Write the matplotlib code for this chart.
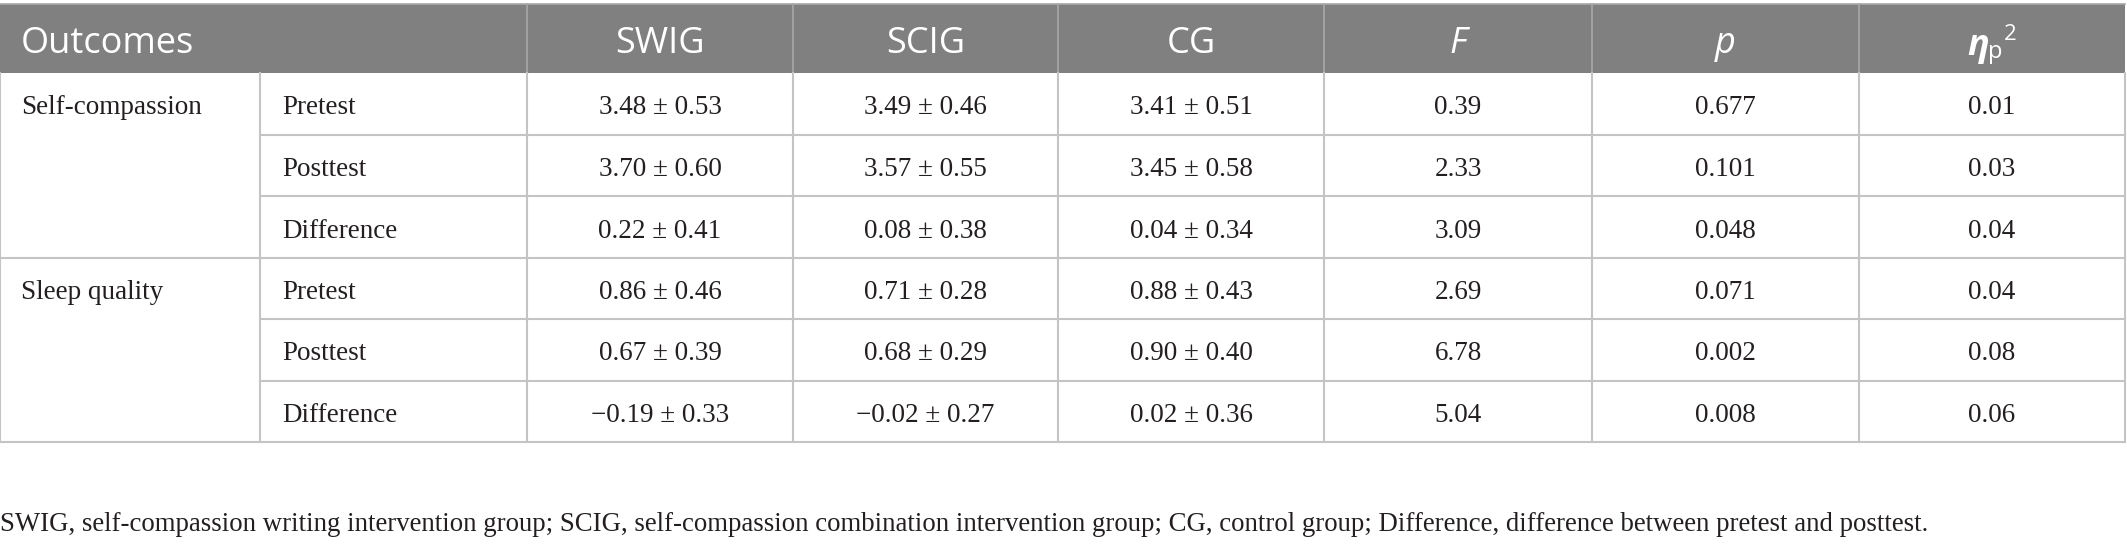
import matplotlib.pyplot as plt
from matplotlib.patches import Rectangle

# Datos de la tabla
outcomes = ['Self-compassion', 'Sleep quality']
phases = ['Pretest', 'Posttest', 'Difference']
headers = ['SWIG', 'SCIG', 'CG', 'F', 'p']

swig_mean = [3.48, 3.70, 0.22, 0.86, 0.67, -0.19]
swig_sd = [0.53, 0.60, 0.41, 0.46, 0.39, 0.33]
scig_mean = [3.49, 3.57, 0.08, 0.71, 0.68, -0.02]
scig_sd = [0.46, 0.55, 0.38, 0.28, 0.29, 0.27]
cg_mean = [3.41, 3.45, 0.04, 0.88, 0.90, 0.02]
cg_sd = [0.51, 0.58, 0.34, 0.43, 0.40, 0.36]
f_vals = [0.39, 2.33, 3.09, 2.69, 6.78, 5.04]
p_vals = [0.677, 0.101, 0.048, 0.071, 0.002, 0.008]
eta_vals = [0.01, 0.03, 0.04, 0.04, 0.08, 0.06]

footnote = ('SWIG, self-compassion writing intervention group; SCIG, self-compassion '
            'combination intervention group; CG, control group; Difference, difference '
            'between pretest and posttest.')

# Geometría (pixeles)
W, H = 2127, 544
col_x = [0, 260, 527, 793, 1058, 1324, 1592, 1859, 2125]
top, head_bot, row_h = 4, 73, 61.5
HEAD_COL = '#808080'
LINE_COL = '#c4c4c4'
TXT_COL = '#231f20'
SERIF = 'Liberation Serif'
SANS = 'Open Sans'


def fmt(v, nd=2):
    return f'{v:.{nd}f}'.replace('-', '\u2212')


fig = plt.figure(figsize=(W / 100, H / 100), dpi=100)
ax = fig.add_axes([0, 0, 1, 1])
ax.set_xlim(0, W)
ax.set_ylim(H, 0)
ax.axis('off')

# Encabezado
ax.add_patch(Rectangle((col_x[0], top), col_x[-1] - col_x[0], head_bot - top,
                       facecolor=HEAD_COL, edgecolor='none'))
ax.plot([col_x[0], col_x[-1]], [top, top], color='#a8a8a8', lw=1.2)
for x in col_x[2:-1]:
    ax.plot([x, x], [top, head_bot], color='#a8a8a8', lw=1.2)
head_base = 53
ax.text(col_x[0] + 21, head_base, 'Outcomes', family=SANS, fontsize=26, color='white',
        va='baseline', ha='left')
for i, h in enumerate(headers):
    xc = (col_x[i + 2] + col_x[i + 3]) / 2
    style = 'italic' if h in ('F', 'p') else 'normal'
    ax.text(xc, head_base, h, family=SANS, fontsize=26, color='white', style=style,
            va='baseline', ha='center')
xc = (col_x[7] + col_x[8]) / 2
ax.text(xc - 14, 55, '\u03b7', family=SANS, fontsize=26, color='white',
        style='italic', weight='bold', va='baseline', ha='center')
ax.text(xc + 3, 58, 'p', family=SANS, fontsize=17, color='white',
        va='baseline', ha='center')
ax.text(xc + 18, 40, '2', family=SANS, fontsize=16, color='white',
        va='baseline', ha='center')

# Cuerpo
n_rows = len(outcomes) * len(phases)
row_edges = [head_bot + k * row_h for k in range(n_rows + 1)]
bottom = row_edges[-1]

for x in col_x:
    ax.plot([x, x], [head_bot, bottom], color=LINE_COL, lw=1.5)
for k in range(1, n_rows + 1):
    x0 = col_x[0] if k % len(phases) == 0 else col_x[1]
    ax.plot([x0, col_x[-1]], [row_edges[k], row_edges[k]], color=LINE_COL, lw=1.5)

base_off = 41.5
for g, name in enumerate(outcomes):
    yb = row_edges[g * len(phases)] + base_off
    ax.text(col_x[0] + 21, yb, name, family=SERIF, fontsize=19.5, color=TXT_COL,
            va='baseline', ha='left')

for r in range(n_rows):
    yb = row_edges[r] + base_off
    ax.text(col_x[1] + 22, yb, phases[r % len(phases)], family=SERIF, fontsize=19.5,
            color=TXT_COL, va='baseline', ha='left')
    cells = [f'{fmt(swig_mean[r])} \u00b1 {fmt(swig_sd[r])}',
             f'{fmt(scig_mean[r])} \u00b1 {fmt(scig_sd[r])}',
             f'{fmt(cg_mean[r])} \u00b1 {fmt(cg_sd[r])}',
             fmt(f_vals[r]), fmt(p_vals[r], 3), fmt(eta_vals[r])]
    for c, txt in enumerate(cells):
        xc = (col_x[c + 2] + col_x[c + 3]) / 2
        ax.text(xc, yb, txt, family=SERIF, fontsize=19.5, color=TXT_COL,
                va='baseline', ha='center')

ax.text(0, 531, footnote, family=SERIF, fontsize=19.3, color=TXT_COL,
        va='baseline', ha='left')

fig.savefig('out.png', dpi=100)
